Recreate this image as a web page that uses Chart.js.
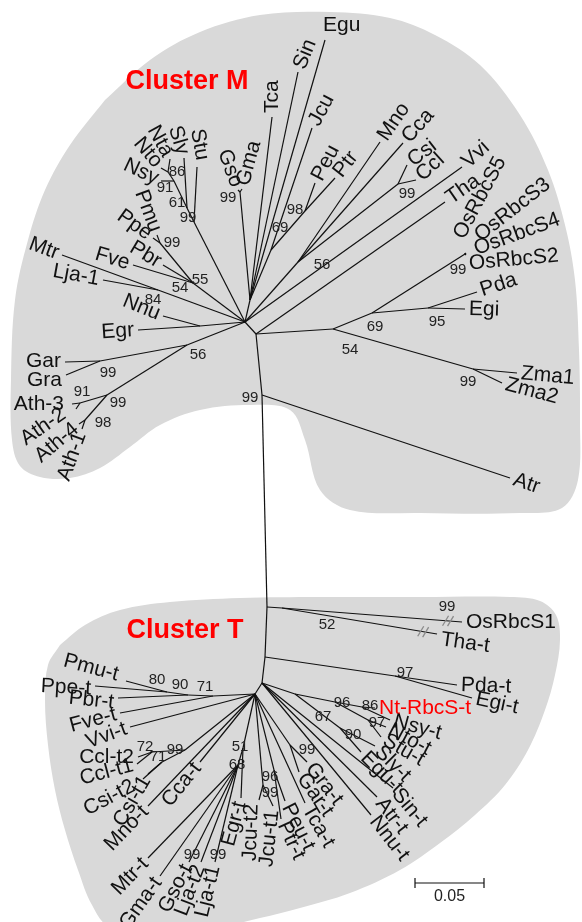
<!DOCTYPE html>
<html>
<head>
<meta charset="utf-8">
<title>RbcS phylogenetic tree</title>
<script src="https://cdn.jsdelivr.net/npm/chart.js@4.4.0/dist/chart.umd.min.js"></script>
<style>
  html, body { margin: 0; padding: 0; background: #fff; }
  #wrap { width: 582px; height: 922px; }
</style>
</head>
<body>
<div id="wrap"><canvas id="tree" width="582" height="922"></canvas></div>
<script>
// Tree layout (radial, MEGA style). Coordinates are layout units, 1380 units = 1 substitution/site.
// Each row: [id, parent, x, y]. Internal nodes start with '#'.
const stemNodes = [
    ['#t1', null, 262, 683],
    ['#s2', '#t1', 265, 657],
    ['#s1', '#s2', 267, 607],
    ['#s99', '#s1', 262, 395],
    ['#c1', '#s99', 256, 334],
    ['#cM', '#c1', 245, 322]
];

const clusterMNodes = [
    ['#m54', '#c1', 333, 329],
    ['#m69', '#m54', 372, 313],
    ['#mOs', '#m69', 465, 254],
    ['OsRbcS5', '#mOs', 465, 253],
    ['OsRbcS3', '#mOs', 466, 253],
    ['OsRbcS4', '#mOs', 466, 254],
    ['OsRbcS2', '#mOs', 466, 255],
    ['#m95', '#m69', 428, 308],
    ['Pda', '#m95', 477, 292],
    ['Egi', '#m95', 465, 309],
    ['#mZma', '#m54', 473, 369],
    ['Zma1', '#mZma', 517, 373],
    ['Zma2', '#mZma', 502, 383],
    ['Atr', '#s99', 510, 478],
    ['Tha', '#c1', 445, 202],
    ['Vvi', '#cM', 462, 167],
    ['#m56', '#cM', 298, 262],
    ['Mno', '#m56', 380, 142],
    ['Cca', '#m56', 403, 143],
    ['#mCit', '#m56', 398, 184],
    ['Csi', '#mCit', 407, 165],
    ['Ccl', '#mCit', 416, 180],
    ['#mB', '#cM', 250, 300],
    ['Egu', '#mB', 325, 40],
    ['Sin', '#mB', 298, 72],
    ['Tca', '#mB', 272, 117],
    ['#mJ', '#mB', 271, 250],
    ['Jcu', '#mJ', 312, 128],
    ['#mPP', '#mJ', 305, 211],
    ['Peu', '#mPP', 315, 183],
    ['Ptr', '#mPP', 335, 178],
    ['#mGly', '#mB', 240, 192],
    ['Gso', '#mGly', 238, 190],
    ['Gma', '#mGly', 242, 189],
    ['#mSol3', '#cM', 194, 222],
    ['Stu', '#mSol3', 197, 167],
    ['#mSol2', '#mSol3', 187, 208],
    ['Sly', '#mSol2', 184, 158],
    ['#mNic', '#mSol2', 174, 181],
    ['Nsy', '#mNic', 161, 181],
    ['#mNto', '#mNic', 168, 172],
    ['Nto', '#mNto', 161, 168],
    ['Nta', '#mNto', 170, 159],
    ['#mRos', '#cM', 193, 283],
    ['Fve', '#mRos', 133, 265],
    ['Pbr', '#mRos', 163, 265],
    ['#mPru', '#mRos', 160, 243],
    ['Ppe', '#mPru', 153, 238],
    ['Pmu', '#mPru', 157, 235],
    ['#mLeg', '#cM', 158, 290],
    ['Mtr', '#mLeg', 62, 255],
    ['Lja-1', '#mLeg', 103, 280],
    ['#mNE', '#cM', 200, 326],
    ['Nnu', '#mNE', 163, 316],
    ['Egr', '#mNE', 138, 330],
    ['#m56b', '#cM', 187, 345],
    ['#mGos', '#m56b', 100, 361],
    ['Gar', '#mGos', 65, 362],
    ['Gra', '#mGos', 66, 375],
    ['#mAth', '#m56b', 107, 395],
    ['#mAth32', '#mAth', 80, 403],
    ['Ath-3', '#mAth32', 72, 404],
    ['Ath-2', '#mAth32', 76, 409],
    ['#mAth41', '#mAth', 85, 420],
    ['Ath-4', '#mAth41', 79, 424],
    ['Ath-1', '#mAth41', 82, 429]
];

const clusterTNodes = [
    ['#tOs', '#s1', 282, 608],
    ['OsRbcS1', '#tOs', 462, 622],
    ['Tha-t', '#tOs', 437, 634],
    ['#tPE', '#s2', 395, 676],
    ['Pda-t', '#tPE', 457, 685],
    ['Egi-t', '#tPE', 472, 698],
    ['#t67', '#t1', 295, 694],
    ['#t96', '#t67', 335, 702],
    ['#t86', '#t96', 362, 707],
    ['Nt-RbcS-t', '#t86', 375, 708],
    ['Nsy-t', '#t86', 390, 720],
    ['#t97', '#t96', 368, 720],
    ['Nto-t', '#t97', 386, 727],
    ['Stu-t', '#t97', 381, 737],
    ['#t90', '#t67', 340, 728],
    ['Sly-t', '#t90', 375, 746],
    ['Egu-t', '#t90', 361, 752],
    ['Sin-t', '#t1', 393, 788],
    ['Atr-t', '#t1', 377, 797],
    ['Nnu-t', '#t1', 371, 815],
    ['#t0', '#t1', 255, 694],
    ['#tG99', '#t0', 290, 745],
    ['Gra-t', '#tG99', 307, 762],
    ['Gar-t', '#tG99', 299, 772],
    ['Tca-t', '#t0', 305, 803],
    ['#tPP', '#t0', 274, 770],
    ['Peu-t', '#tPP', 285, 801],
    ['Ptr-t', '#tPP', 281, 819],
    ['#tJ', '#t0', 263, 785],
    ['Jcu-t2', '#tJ', 259, 800],
    ['Jcu-t1', '#tJ', 273, 806],
    ['#t51', '#t0', 243, 748],
    ['Egr-t', '#t51', 241, 798],
    ['#t68', '#t51', 238, 765],
    ['Mtr-t', '#t68', 148, 858],
    ['Gma-t', '#t68', 160, 876],
    ['Gso-t', '#t68', 189, 862],
    ['Lja-t2', '#t68', 201, 862],
    ['Lja-t1', '#t68', 215, 862],
    ['Cca-t', '#t0', 200, 762],
    ['Mno-t', '#t0', 148, 806],
    ['#tC99', '#t0', 185, 750],
    ['#tC72', '#tC99', 152, 752],
    ['Ccl-t2', '#tC72', 138, 757],
    ['Ccl-t1', '#tC72', 137, 764],
    ['#tC71', '#tC99', 162, 762],
    ['Csi-t1', '#tC71', 148, 774],
    ['Csi-t2', '#tC71', 143, 779],
    ['Vvi-t', '#t0', 130, 727],
    ['#tR71', '#t0', 213, 696],
    ['Fve-t', '#tR71', 120, 713],
    ['#tR90', '#tR71', 188, 695],
    ['Pbr-t', '#tR90', 118, 698],
    ['#tR80', '#tR90', 167, 692],
    ['Ppe-t', '#tR80', 95, 686],
    ['Pmu-t', '#tR80', 126, 681]
];

// Bootstrap values: [value, x, y]
const supportM = [
    ['99', 228, 198], ['98', 295, 210], ['69', 280, 228], ['99', 407, 194], ['56', 322, 265],
    ['86', 177, 172], ['91', 165, 188], ['61', 177, 203], ['99', 188, 218], ['99', 172, 243],
    ['55', 200, 280], ['54', 180, 288], ['84', 153, 300], ['56', 198, 355], ['99', 108, 373],
    ['91', 82, 392], ['99', 118, 403], ['98', 103, 423], ['99', 458, 270], ['69', 375, 327],
    ['95', 437, 322], ['54', 350, 350], ['99', 468, 382], ['99', 250, 398]
];
const supportT = [
    ['99', 447, 607], ['52', 327, 625], ['97', 405, 673], ['80', 157, 680], ['90', 180, 685],
    ['71', 205, 687], ['72', 145, 747], ['71', 158, 757], ['99', 175, 750], ['51', 240, 747],
    ['68', 237, 765], ['96', 270, 777], ['99', 270, 793], ['99', 192, 855], ['99', 218, 855],
    ['99', 307, 750], ['96', 342, 703], ['86', 370, 706], ['67', 323, 717], ['97', 377, 723],
    ['90', 353, 735]
];

// Cluster backgrounds (outline points)
const clusterMOutline = [
    [105, 100], [150, 60], [200, 32], [260, 15], [330, 12], [390, 18], [435, 35], [480, 65],
    [520, 115], [548, 170], [565, 225], [575, 280], [579, 350], [580, 420], [578, 480], [562, 508],
    [520, 513], [420, 513], [350, 510], [320, 490], [305, 440], [290, 410], [250, 405], [200, 410],
    [160, 425], [130, 447], [100, 468], [70, 478], [40, 477], [20, 466], [12, 440], [11, 380],
    [15, 300], [28, 240], [45, 190], [70, 145], [105, 100]
];
const clusterTOutline = [
    [60, 645], [85, 625], [120, 610], [170, 602], [240, 598], [320, 597], [420, 597], [510, 597],
    [540, 601], [556, 615], [560, 640], [555, 675], [545, 710], [528, 750], [505, 785], [475, 815],
    [440, 843], [400, 870], [350, 893], [300, 908], [260, 918], [220, 926], [110, 926], [92, 905],
    [78, 870], [65, 830], [55, 790], [48, 745], [45, 700], [48, 665], [60, 645]
];

const clusterTitles = [['Cluster M', 187, 82], ['Cluster T', 185, 631]];
const highlightTip = 'Nt-RbcS-t';
const brokenBranches = ['OsRbcS1', 'Tha-t'];
const scaleBarValue = 0.05;
const unitsPerSubstitution = 1380;
const scaleBarOrigin = [415, 883];

// Label direction tweaks (outward text direction in degrees, optional shift)
const labelLayout = {
    'Egu': {phi: 0, dx: -6, dy: -15}, 'Sin': {phi: -68}, 'Tca': {phi: -90}, 'Jcu': {phi: -62},
    'Peu': {phi: -62}, 'Ptr': {phi: -52},
    'OsRbcS2': {phi: -5, dx: -1, dy: 9}, 'OsRbcS4': {phi: -20, dx: 5, dy: -3},
    'OsRbcS3': {phi: -38, dx: 8, dy: -13}, 'OsRbcS5': {phi: -62, dx: -8, dy: -12},
    'Csi': {phi: -38}, 'Ccl': {phi: -42}, 'Vvi': {phi: -42},
    'Gso': {phi: -110}, 'Gma': {phi: -75},
    'Stu': {phi: -100, dx: 6, dy: -3}, 'Sly': {phi: -107}, 'Nta': {phi: -119}, 'Nto': {phi: -130},
    'Nsy': {phi: -155},
    'Nnu': {phi: 202}, 'Gar': {phi: 180, dy: -1}, 'Gra': {phi: 180, dy: 5}, 'Ath-3': {phi: 180, dx: -4},
    'Ath-2': {phi: 145, dx: -9, dy: 1}, 'Ath-4': {phi: 140}, 'Ath-1': {phi: 110}, 'Zma2': {phi: 15},
    'OsRbcS1': {phi: 0}, 'Tha-t': {phi: 8, dy: 5}, 'Pda-t': {phi: 2}, 'Egi-t': {phi: 12},
    'Nt-RbcS-t': {phi: 0}, 'Nsy-t': {phi: 15}, 'Nto-t': {phi: 28}, 'Stu-t': {phi: 30},
    'Sly-t': {phi: 45}, 'Egu-t': {phi: 45}, 'Sin-t': {phi: 50}, 'Atr-t': {phi: 52}, 'Nnu-t': {phi: 52},
    'Gra-t': {phi: 52}, 'Gar-t': {phi: 55}, 'Tca-t': {phi: 60}, 'Peu-t': {phi: 63}, 'Ptr-t': {phi: 65},
    'Jcu-t2': {phi: 92, dx: -7}, 'Jcu-t1': {phi: 96}, 'Egr-t': {phi: 105},
    'Ccl-t2': {phi: 180}, 'Ccl-t1': {phi: 165}, 'Csi-t2': {phi: 152, dx: -6, dy: 4}, 'Csi-t1': {phi: 120},
    'Vvi-t': {phi: 160}, 'Fve-t': {phi: 165}, 'Pbr-t': {phi: 186, dy: 5},
    'Pmu-t': {phi: 195, dx: -4, dy: -5}, 'Ppe-t': {phi: 183, dy: 3}
};

const FONT = '"Liberation Sans", Arial, sans-serif';
const allNodes = [...stemNodes, ...clusterMNodes, ...clusterTNodes];
const byId = {};
allNodes.forEach(([id, parent, x, y]) => { byId[id] = {id, parent, x, y}; });
const tipIds = allNodes.map(n => n[0]).filter(id => !id.startsWith('#'));

const outlineSet = (pts) => ({
    data: pts.map(([x, y]) => ({x, y})),
    showLine: true,
    fill: 'shape',
    backgroundColor: '#d9d9d9',
    borderColor: '#d9d9d9',
    borderWidth: 0,
    tension: 0.35,
    pointRadius: 0,
    order: 5
});

const branchSets = allNodes.filter(n => n[1]).map(([id, parent, x, y]) => ({
    data: [{x: byId[parent].x, y: byId[parent].y}, {x, y}],
    showLine: true,
    borderColor: '#111',
    borderWidth: 1.2,
    pointRadius: 0,
    order: 1
}));

const barEnd = scaleBarOrigin[0] + scaleBarValue * unitsPerSubstitution;
const scaleBarSets = [
    [[scaleBarOrigin[0], scaleBarOrigin[1]], [barEnd, scaleBarOrigin[1]]],
    [[scaleBarOrigin[0], scaleBarOrigin[1] - 5], [scaleBarOrigin[0], scaleBarOrigin[1] + 5]],
    [[barEnd, scaleBarOrigin[1] - 5], [barEnd, scaleBarOrigin[1] + 5]]
].map(seg => ({
    data: seg.map(([x, y]) => ({x, y})),
    showLine: true, borderColor: '#111', borderWidth: 1.2, pointRadius: 0, order: 1
}));

// draws tip names, bootstrap values, titles, break marks and the scale label
const treeText = {
    id: 'treeText',
    afterDatasetsDraw(chart) {
        const {ctx, scales: {x, y}} = chart;
        const px = (n) => [x.getPixelForValue(n.x), y.getPixelForValue(n.y)];
        ctx.save();

        // break marks on shortened branches
        ctx.strokeStyle = '#8a8a8a';
        ctx.lineWidth = 1.3;
        brokenBranches.forEach(id => {
            const [tx, ty] = px(byId[id]);
            const [ppx, ppy] = px(byId[byId[id].parent]);
            const a = Math.atan2(ty - ppy, tx - ppx);
            const cx = tx - 14 * Math.cos(a), cy = ty - 14 * Math.sin(a);
            [-2.5, 2.5].forEach(o => {
                const mx = cx + o * Math.cos(a), my = cy + o * Math.sin(a);
                ctx.beginPath();
                ctx.moveTo(mx - 3, my + 5);
                ctx.lineTo(mx + 3, my - 5);
                ctx.stroke();
            });
        });

        // tip labels
        ctx.textBaseline = 'middle';
        tipIds.forEach(id => {
            const node = byId[id];
            const [tx, ty] = px(node);
            const [ppx, ppy] = px(byId[node.parent]);
            const lay = labelLayout[id] || {};
            const phi = lay.phi !== undefined ? lay.phi * Math.PI / 180 : Math.atan2(ty - ppy, tx - ppx);
            const ax = tx + 4 * Math.cos(phi) + (lay.dx || 0);
            const ay = ty + 4 * Math.sin(phi) + (lay.dy || 0);
            let rot = phi, align = 'left';
            if (Math.cos(phi) < -1e-6) { rot = phi + Math.PI; align = 'right'; }
            ctx.save();
            ctx.translate(ax, ay);
            ctx.rotate(rot);
            ctx.textAlign = align;
            ctx.font = '21px ' + FONT;
            ctx.fillStyle = id === highlightTip ? '#ff0000' : '#111';
            ctx.fillText(id, 0, 0);
            ctx.restore();
        });

        // bootstrap values
        ctx.font = '15px ' + FONT;
        ctx.fillStyle = '#222';
        ctx.textAlign = 'center';
        [...supportM, ...supportT].forEach(([v, vx, vy]) => {
            ctx.fillText(v, x.getPixelForValue(vx), y.getPixelForValue(vy));
        });

        // cluster titles
        ctx.font = 'bold 27px ' + FONT;
        ctx.fillStyle = '#ff0000';
        clusterTitles.forEach(([t, tx, ty]) => {
            ctx.fillText(t, x.getPixelForValue(tx), y.getPixelForValue(ty));
        });

        // scale label
        ctx.font = '16px ' + FONT;
        ctx.fillStyle = '#222';
        ctx.fillText(String(scaleBarValue),
            x.getPixelForValue((scaleBarOrigin[0] + barEnd) / 2),
            y.getPixelForValue(scaleBarOrigin[1] + 14));
        ctx.restore();
    }
};

new Chart(document.getElementById('tree').getContext('2d'), {
    type: 'scatter',
    data: {
        datasets: [outlineSet(clusterMOutline), outlineSet(clusterTOutline), ...branchSets, ...scaleBarSets]
    },
    options: {
        responsive: false,
        maintainAspectRatio: false,
        devicePixelRatio: 1,
        animation: false,
        layout: {padding: 0},
        scales: {
            x: {type: 'linear', min: 0, max: 582, display: false},
            y: {type: 'linear', min: 0, max: 922, reverse: true, display: false}
        },
        plugins: {legend: {display: false}, tooltip: {enabled: false}},
        events: []
    },
    plugins: [treeText]
});
</script>
</body>
</html>
